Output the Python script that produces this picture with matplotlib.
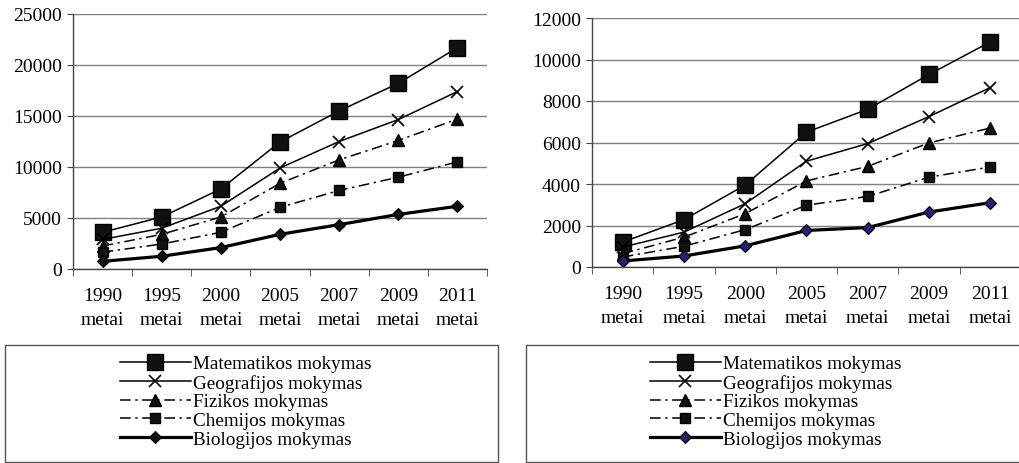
import matplotlib.pyplot as plt
from matplotlib.patches import Rectangle
import numpy as np

plt.rcParams['font.family'] = 'Liberation Serif'
plt.rcParams['font.size'] = 14

years = ['1990', '1995', '2000', '2005', '2007', '2009', '2011']
series_names = ['Matematikos mokymas', 'Geografijos mokymas', 'Fizikos mokymas',
                'Chemijos mokymas', 'Biologijos mokymas']

# left chart
mat_l = [3600, 5100, 7850, 12450, 15500, 18200, 21700]
geo_l = [2900, 4000, 6150, 9900, 12500, 14650, 17400]
fiz_l = [2250, 3400, 5100, 8400, 10700, 12600, 14700]
chem_l = [1650, 2450, 3600, 6050, 7700, 9000, 10500]
bio_l = [750, 1250, 2100, 3400, 4350, 5350, 6150]

# right chart
mat_r = [1200, 2280, 3950, 6500, 7600, 9280, 10850]
geo_r = [960, 1680, 3050, 5100, 5950, 7250, 8650]
fiz_r = [640, 1440, 2570, 4150, 4850, 5980, 6700]
chem_r = [480, 1000, 1800, 2980, 3400, 4330, 4820]
bio_r = [290, 530, 1020, 1760, 1900, 2650, 3100]

W, H = 1019, 464
fig = plt.figure(figsize=(W / 100, H / 100), dpi=100)

dd = (0, (7, 3, 1.5, 3))


def draw(ax, data, ymax, ystep, bio_face):
    x = np.arange(len(years))
    mat, geo, fiz, chem, bio = data
    ax.plot(x, mat, color='black', lw=1.1, marker='s', ms=11.5, mfc='#111111', mec='black', label=series_names[0])
    ax.plot(x, geo, color='black', lw=1.1, marker='x', ms=9, mew=1.2, label=series_names[1])
    ax.plot(x, fiz, color='black', lw=1.1, ls=dd, marker='^', ms=8, mfc='#111111', label=series_names[2])
    ax.plot(x, chem, color='black', lw=1.1, ls=dd, marker='s', ms=6.5, mfc='#111111', label=series_names[3])
    ax.plot(x, bio, color='black', lw=2.3, marker='D', ms=6, mfc=bio_face, mec='black', mew=0.8, label=series_names[4])
    ax.set_xlim(-0.5, len(years) - 0.5)
    ax.set_ylim(0, ymax)
    ax.set_yticks(np.arange(0, ymax + 1, ystep))
    ax.yaxis.grid(True, color='#808080', lw=1)
    ax.set_axisbelow(True)
    ax.set_xticks(x)
    ax.set_xticklabels([y + '\nmetai' for y in years], linespacing=1.5)
    ax.set_xticks(np.arange(-0.5, len(years)), minor=True)
    ax.tick_params(axis='x', which='major', length=0, pad=13)
    ax.tick_params(axis='x', which='minor', length=5, direction='out', color='#444444')
    ax.tick_params(axis='y', length=4, direction='out', color='#444444', pad=4)
    for s in ['top', 'right']:
        ax.spines[s].set_visible(False)
    for s in ['left', 'bottom']:
        ax.spines[s].set_color('#444444')
        ax.spines[s].set_linewidth(1)
    return ax


ax1 = fig.add_axes([73 / W, 1 - 270 / H, 414 / W, 255 / H])
draw(ax1, [mat_l, geo_l, fiz_l, chem_l, bio_l], 25000, 5000, '#111111')
ax2 = fig.add_axes([592 / W, 1 - 268 / H, 429 / W, 249 / H])
draw(ax2, [mat_r, geo_r, fiz_r, chem_r, bio_r], 12000, 2000, '#22226e')

# legend boxes
for (bx0, bx1), ax, lx in [((5, 498), ax1, 120), ((526, 1030), ax2, 650)]:
    fig.patches.append(Rectangle((bx0 / W, 1 - 463 / H), (bx1 - bx0) / W, 117 / H,
                                 transform=fig.transFigure, fill=False,
                                 edgecolor='#555555', lw=1))
    ax.legend(loc='upper left', bbox_to_anchor=(lx / W, 1 - 356 / H),
              bbox_transform=fig.transFigure, frameon=False, borderpad=0,
              borderaxespad=0, handlelength=3.7, handletextpad=0.1,
              labelspacing=0.07, fontsize=13.8)

plt.savefig('out.png', dpi=100)
